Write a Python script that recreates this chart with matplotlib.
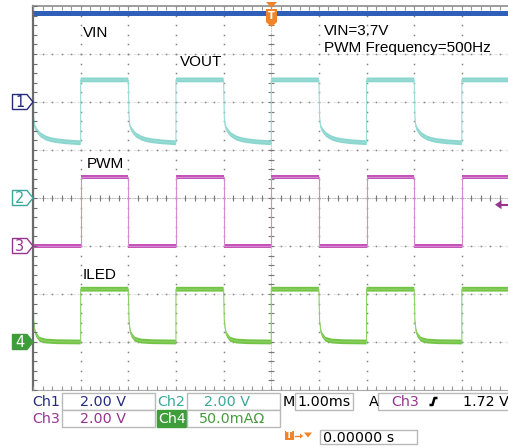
import numpy as np
import matplotlib
matplotlib.use('Agg')
import matplotlib.pyplot as plt
from matplotlib.patches import Polygon, Rectangle

# ---------------- data ----------------
CHANNELS = ['Ch1', 'Ch2', 'Ch3', 'Ch4']
CH_SCALE = [2.0, 2.0, 2.0, 50.0]          # V/div, V/div, V/div, mA/div
CH_OFFSET_DIV = [2.0, 0.0, -1.0, -3.0]    # ground marker position (div)
SCALE_LABELS = ['2.00 V', '2.00 V', '2.00 V', '50.0mAΩ']
TIMEBASE_LABEL = '1.00ms'
TRIG_SOURCE = 'Ch3'
TRIG_LEVEL_V = 1.72
TRIG_LABEL = '1.72 V'
TRIG_POS_LABEL = '0.00000 s'

RISE_MS = [1, 3, 5, 7, 9]
FALL_MS = [0, 2, 4, 6, 8, 10]

VIN_V = 3.7
VOUT_HIGH_V = 4.92
VOUT_FALL_DT = [0.0, 0.015, 0.03, 0.05, 0.10, 0.16, 0.27, 0.36, 0.48, 0.70, 1.0]
VOUT_FALL_V = [4.92, 3.40, 3.05, 2.92, 2.76, 2.63, 2.50, 2.44, 2.39, 2.34, 2.30]
PWM_HIGH_V = 2.88
PWM_FALL_DT = [0.0, 0.0, 1.0]
PWM_FALL_V = [2.88, 0.0, 0.0]
ILED_HIGH_MA = 55.0
ILED_FALL_DT = [0.0, 0.015, 0.04, 0.07, 0.14, 0.27, 0.5, 1.0]
ILED_FALL_MA = [55.0, 22.0, 11.5, 7.3, 2.8, 1.0, 0.3, 0.0]

TRACE_LABELS = ['VIN', 'VOUT', 'PWM', 'ILED']
NOTE_LINES = ['VIN=3.7V', 'PWM Frequency=500Hz']

# ---------------- colours ----------------
C_NAVY = '#262c7c'
C_TEAL = '#3aa89a'
C_PURPLE = '#96358f'
C_GREEN = '#3e9c3a'
C_GREEN_TXT = '#4a9a42'
C_ORANGE = '#f0842a'

W, H = 508, 448
fig = plt.figure(figsize=(W / 100, H / 100), dpi=100)
fig.patch.set_facecolor('white')

# main scope screen: x 33..509.5 px, y 6..390 px
L, R, T, B = 33, 509.5, 6, 390
ax = fig.add_axes([L / W, (H - B) / H, (R - L) / W, (B - T) / H])
ax.set_xlim(0, 10)
ax.set_ylim(-4, 4)
ax.axis('off')

# overlay in pixel coordinates
ov = fig.add_axes([0, 0, 1, 1])
ov.set_xlim(0, W)
ov.set_ylim(H, 0)
ov.axis('off')
ov.patch.set_alpha(0)

# ---------------- grid ----------------
sub = np.arange(-4, 4.001, 0.2)
subx = np.arange(0, 10.001, 0.2)
for yv in range(-3, 4):
    ax.plot([0, 10], [yv, yv], color='#e2e2e2', lw=0.8, ls=(0, (3, 2)), zorder=1)
    ax.plot(subx, np.full_like(subx, yv), ls='none', marker='s', ms=1.1, mew=0,
            color='#858585', zorder=1)
for xv in range(1, 11):
    ax.plot(np.full_like(sub, xv), sub, ls='none', marker='s', ms=1.1, mew=0,
            color='#858585', zorder=1)
# centre lines with ticks
ax.plot([5, 5], [-4, 4], color='#a0a0a0', lw=0.6, ls=(0, (1, 1)), zorder=1)
ax.plot([0, 10], [0, 0], color='#a0a0a0', lw=0.6, ls=(0, (1, 1)), zorder=1)
ax.plot(np.full_like(sub, 5), sub, ls='none', marker='_', ms=5, mew=0.8,
        color='#7a7a7a', zorder=1)
ax.plot(subx, np.zeros_like(subx), ls='none', marker='|', ms=5, mew=0.8,
        color='#7a7a7a', zorder=1)
# borders
ax.plot([0, 0], [-4, 4], color='#6c6c6c', lw=1.6, zorder=5, clip_on=False)
ax.plot([0, 10], [4, 4], color='#959595', lw=1.3, zorder=5, clip_on=False)
ax.plot([0, 10], [-4, -4], color='#a8a8a8', lw=0.8, zorder=5, clip_on=False)
ax.plot(np.zeros_like(sub), sub, ls='none', marker=1, ms=3, mew=0.8,
        color='#6c6c6c', zorder=5, clip_on=False)
ax.plot(subx, np.full_like(subx, 4), ls='none', marker=3, ms=3, mew=0.8,
        color='#959595', zorder=5, clip_on=False)
ax.plot(subx, np.full_like(subx, -4), ls='none', marker=2, ms=3, mew=0.8,
        color='#959595', zorder=5, clip_on=False)


# ---------------- traces ----------------
def build(fall_dt, fall_val, high):
    t, v = [], []
    for f in FALL_MS:
        nxt = [r for r in RISE_MS if r > f]
        r = nxt[0] if nxt else f + 1.0
        for dt, val in zip(fall_dt, fall_val):
            if dt <= r - f:
                t.append(f + dt)
                v.append(val)
        t += [r, r]
        v += [v[-1], high]
    return np.array(t, float), np.array(v, float)


def to_div(vals, ch):
    return CH_OFFSET_DIV[ch] + np.asarray(vals) / CH_SCALE[ch]


def draw_trace(t, y, band, line, hw, lw=0.8):
    ax.fill_between(t, y - hw, y + hw, color=band, lw=0, zorder=3)
    ax.plot(t, y, color=line, lw=lw, zorder=3)


# VIN (Ch1)
t_vin = np.array([0.0, 10.5])
draw_trace(t_vin, to_div([VIN_V, VIN_V], 0), '#2f5fb8', '#2f5fb8', 0.05)
# VOUT (Ch2)
t, v = build(VOUT_FALL_DT, VOUT_FALL_V, VOUT_HIGH_V)
draw_trace(t, to_div(v, 1), '#8ad6cf', '#9adcd6', 0.05)
# PWM (Ch3)
t, v = build(PWM_FALL_DT, PWM_FALL_V, PWM_HIGH_V)
draw_trace(t, to_div(v, 2), '#c452b8', '#d58acd', 0.035)
# ILED (Ch4)
t, v = build(ILED_FALL_DT, ILED_FALL_MA, ILED_HIGH_MA)
draw_trace(t, to_div(v, 3), '#72c444', '#8fd06a', 0.05)

# ---------------- labels in screen ----------------
lab_font = dict(family='Liberation Sans', fontsize=11, color='black', va='baseline')
lab_pos = [(83, 37), (180, 66), (87, 168), (83, 279)]
for s, (x, y) in zip(TRACE_LABELS, lab_pos):
    ov.text(x, y, s, **lab_font)
ov.text(324, 35, NOTE_LINES[0], **lab_font)
ov.text(324, 52, NOTE_LINES[1], **lab_font)

# ---------------- channel markers ----------------
def px_y(div):
    return 198 - div * 48

marker_style = [
    (C_NAVY, 'white', C_NAVY),
    (C_TEAL, 'white', C_TEAL),
    (C_PURPLE, 'white', C_PURPLE),
    (C_GREEN, C_GREEN, 'white'),
]
for i, (ec, fc, tc) in enumerate(marker_style):
    yc = px_y(CH_OFFSET_DIV[i])
    poly = Polygon([(12.5, yc - 7.5), (27, yc - 7.5), (33, yc), (27, yc + 7.5),
                    (12.5, yc + 7.5)], closed=True, facecolor=fc, edgecolor=ec,
                   lw=1.0, zorder=6)
    ov.add_patch(poly)
    ov.text(20, yc + 0.5, str(i + 1), color=tc, fontsize=10.5, ha='center',
            va='center', family='DejaVu Sans', zorder=7)

# trigger position marker (top)
ov.add_patch(Polygon([(266, 2), (277, 2), (271.5, 8)], closed=True,
                     facecolor=C_ORANGE, edgecolor='none', zorder=6))
ov.add_patch(Polygon([(266, 9), (277, 9), (277, 22), (271.5, 27), (266, 22)],
                     closed=True, facecolor=C_ORANGE, edgecolor='none', zorder=6))
ov.text(271.5, 16, 'T', color='white', fontsize=7, fontweight='bold',
        ha='center', va='center', zorder=7)

# trigger level marker (right)
ytl = px_y(CH_OFFSET_DIV[2] + TRIG_LEVEL_V / CH_SCALE[2])
ov.add_patch(Polygon([(495, ytl), (501.5, ytl - 4.5), (501.5, ytl + 4.5)],
                     closed=True, facecolor=C_PURPLE, edgecolor='none', zorder=6))
ov.plot([500, 508], [ytl, ytl], color=C_PURPLE, lw=1.5, zorder=6)

# ---------------- info panel ----------------
info_font = dict(family='DejaVu Sans', fontsize=10.3, va='baseline', zorder=8)
box_ec = '#b9b9b9'


def box(x0, x1, y0, y1, fc='white', ec=box_ec):
    ov.add_patch(Rectangle((x0, y0), x1 - x0, y1 - y0, facecolor=fc,
                           edgecolor=ec, lw=1.0, zorder=4))


r1, r2 = (393, 410), (410, 427)
box(62, 155, *r1)
box(187, 280, *r1)
box(295, 352.5, *r1)
box(378, 512, *r1)
box(62, 155, *r2)
box(157, 186, *r2, fc=C_GREEN, ec=C_GREEN)
box(187, 280, *r2)
box(320, 417, 430, 444)

b1, b2 = 405.5, 423
ov.text(32, b1, CHANNELS[0], color=C_NAVY, **info_font)
ov.text(80, b1, SCALE_LABELS[0], color=C_NAVY, **info_font)
ov.text(157.5, b1, CHANNELS[1], color=C_TEAL, **info_font)
ov.text(204, b1, SCALE_LABELS[1], color=C_TEAL, **info_font)
ov.text(283, b1, 'M', color='black', **info_font)
ov.text(297, b1, TIMEBASE_LABEL, color='black', **info_font)
ov.text(369, b1, 'A', color='black', **info_font)
ov.text(391, b1, TRIG_SOURCE, color=C_PURPLE, **info_font)
ov.plot([429.5, 432.5, 434.5, 437.5], [405, 405, 398, 398], color='black',
        lw=1.8, solid_capstyle='butt', zorder=8)
ov.text(463, b1, TRIG_LABEL, color='black', **info_font)

ov.text(32, b2, CHANNELS[2], color=C_PURPLE, **info_font)
ov.text(80, b2, SCALE_LABELS[2], color=C_PURPLE, **info_font)
ov.text(158, b2, CHANNELS[3], color='white', **info_font)
ov.text(199, b2, SCALE_LABELS[3], color=C_GREEN_TXT, **info_font)

# trigger position row
ov.add_patch(Rectangle((285, 431), 9, 9.5, facecolor=C_ORANGE, edgecolor='none', zorder=6))
ov.text(289.5, 436, 'T', color='white', fontsize=6.5, fontweight='bold',
        ha='center', va='center', zorder=7)
ov.plot([294.5, 301], [436, 436], color=C_ORANGE, lw=1.0, zorder=6)
ov.add_patch(Polygon([(300, 433.5), (303, 436), (300, 438.5)], closed=True,
                     facecolor=C_ORANGE, edgecolor='none', zorder=6))
ov.add_patch(Polygon([(304, 432.5), (312, 432.5), (308, 437.5)], closed=True,
                     facecolor=C_ORANGE, edgecolor='none', zorder=6))
ov.text(323, 441.5, TRIG_POS_LABEL, color='black', **info_font)

fig.savefig('out.png', dpi=100, facecolor='white')
